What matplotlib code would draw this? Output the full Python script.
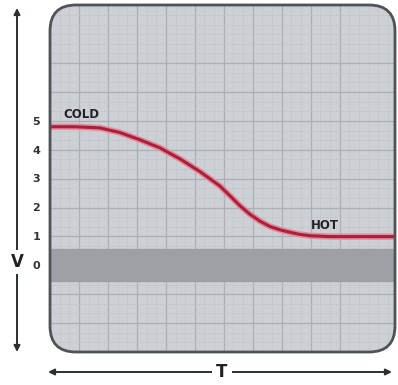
import matplotlib
matplotlib.use("Agg")
import numpy as np
import matplotlib.pyplot as plt
from matplotlib.patches import FancyBboxPatch

# curve (T in grid units, V in volts)
t_vals = [0.0, 0.86, 1.72, 2.41, 3.10, 3.79, 4.48, 5.17, 5.86, 6.21, 6.55, 6.90, 7.25, 7.59, 7.95, 8.28, 8.6, 8.97, 9.66, 10.5, 11.9]
v_vals = [4.79, 4.79, 4.75, 4.59, 4.34, 4.06, 3.68, 3.24, 2.74, 2.40, 2.06, 1.76, 1.52, 1.34, 1.22, 1.14, 1.07, 1.02, 0.99, 0.99, 0.99]
tick_vals = [0, 1, 2, 3, 4, 5]
band = (-0.55, 0.55)

fig = plt.figure(figsize=(3.98, 3.85), dpi=100)
ax = fig.add_axes([50/398, 1-352/385, 345/398, 347/385])
ax.set_xlim(0, 11.9)
ax.set_ylim(-3, 9)
for s in ax.spines.values():
    s.set_visible(False)
ax.set_facecolor("none")

# rounded panel
panel = FancyBboxPatch((0, 0), 1, 1, boxstyle="round,pad=0,rounding_size=0.075",
                       transform=ax.transAxes, facecolor="#cdd1d6",
                       edgecolor="none", zorder=0)
ax.add_patch(panel)
border = FancyBboxPatch((0, 0), 1, 1, boxstyle="round,pad=0,rounding_size=0.075",
                        transform=ax.transAxes, facecolor="none",
                        edgecolor="#4e5356", linewidth=2, zorder=6, clip_on=False)
ax.add_patch(border)

# graph paper grid, clipped to the rounded panel
for v in np.arange(0, 12, 0.333):
    major = abs(v - round(v)) < 0.01
    ln = ax.axvline(v, color="#aab0b5" if major else "#c2c6cb", linewidth=0.9 if major else 0.5, zorder=0.5)
    ln.set_clip_path(panel)
for v in np.arange(-3, 9.01, 0.333):
    major = abs(v - round(v)) < 0.01
    ln = ax.axhline(v, color="#aab0b5" if major else "#c2c6cb", linewidth=0.9 if major else 0.5, zorder=0.5)
    ln.set_clip_path(panel)

ax.set_xticks([])
ax.set_yticks(tick_vals)
ax.set_yticklabels([str(v) for v in tick_vals], fontsize=8, fontweight="bold", color="#333333")
ax.tick_params(length=0, pad=7)

sp = ax.axhspan(band[0], band[1], color="#9da1a5", zorder=1)
sp.set_clip_path(panel)

glow, = ax.plot(t_vals, v_vals, color="#e58a9a", linewidth=4.5, zorder=3, solid_capstyle="butt", solid_joinstyle="round")
core, = ax.plot(t_vals, v_vals, color="#a8213c", linewidth=2.2, zorder=4, solid_capstyle="butt", solid_joinstyle="round")
glow.set_clip_path(panel)
core.set_clip_path(panel)

ax.text(0.45, 5.0, "COLD", fontsize=8.5, fontweight="bold", color="#222222", va="bottom")
ax.text(9.0, 1.15, "HOT", fontsize=8.5, fontweight="bold", color="#222222", va="bottom")

# outer V and T arrows
arr = dict(arrowstyle="-|>", color="#2b2f33", linewidth=1.4, mutation_scale=9, shrinkA=0, shrinkB=0)
ax.annotate("", xy=(17/398, 1-8/385), xytext=(17/398, 0.5), xycoords="figure fraction",
            textcoords="figure fraction", arrowprops=arr)
ax.annotate("", xy=(17/398, 1-352/385), xytext=(17/398, 0.5), xycoords="figure fraction",
            textcoords="figure fraction", arrowprops=arr)
fig.text(17/398, 1-262/385, "V", ha="center", va="center", fontsize=12, fontweight="bold",
         color="#222222", bbox=dict(facecolor="white", edgecolor="none", pad=2))
ax.annotate("", xy=(48/398, 1-372/385), xytext=(0.5, 1-372/385), xycoords="figure fraction",
            textcoords="figure fraction", arrowprops=arr)
ax.annotate("", xy=(392/398, 1-372/385), xytext=(0.5, 1-372/385), xycoords="figure fraction",
            textcoords="figure fraction", arrowprops=arr)
fig.text(222/398, 1-372/385, "T", ha="center", va="center", fontsize=12, fontweight="bold",
         color="#222222", bbox=dict(facecolor="white", edgecolor="none", pad=3))

fig.savefig("out.png", dpi=100)
